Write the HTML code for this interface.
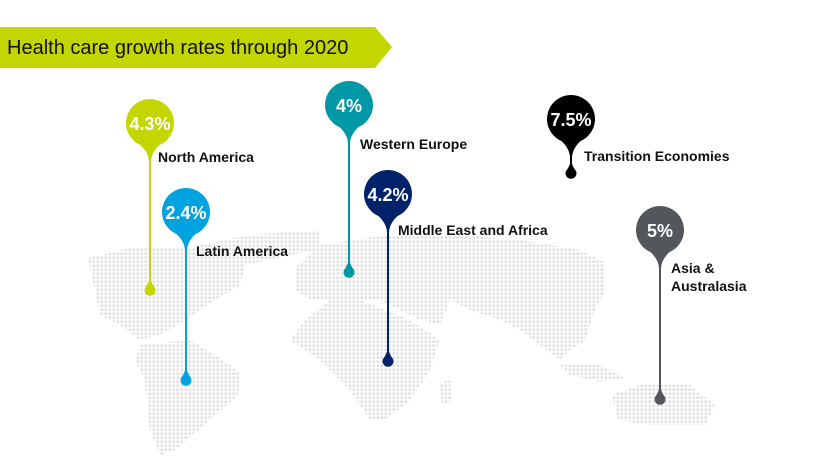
<!DOCTYPE html>
<html><head><meta charset="utf-8"><style>
html,body{margin:0;padding:0;background:#fff;}
body{width:837px;height:471px;overflow:hidden;position:relative;font-family:"Liberation Sans",sans-serif;}
</style></head><body>
<svg width="837" height="471" viewBox="0 0 837 471" xmlns="http://www.w3.org/2000/svg" style="position:absolute;left:0;top:0">
<defs>
<pattern id="d" width="4" height="4" patternUnits="userSpaceOnUse"><rect x="0.5" y="0.5" width="2.5" height="2.3" fill="#dcdcdc"/></pattern>
</defs>
<polygon points="0,27 375,27 392,47 375,68 0,68" fill="#c4d600"/>
<text x="7" y="54" font-size="20" fill="#111">Health care growth rates through 2020</text>
<g fill="url(#d)">
<polygon points="88,258 130,248 190,247 250,235 320,230 320,250 290,255 245,265 240,285 215,300 185,320 160,335 140,340 120,325 100,315 95,290"/>
<polygon points="140,345 190,340 215,355 240,372 238,395 210,420 175,450 160,455 150,430 145,380 135,360"/>
<polygon points="295,268 320,245 380,236 460,235 520,240 580,250 605,262 605,290 595,310 585,340 570,350 560,360 540,345 520,330 500,320 470,310 450,300 440,325 420,320 400,310 380,300 350,300 310,300 295,290"/>
<polygon points="290,340 305,320 330,300 360,300 410,320 440,340 430,370 410,400 385,420 370,420 350,390 320,360"/>
<polygon points="560,365 600,365 625,378 600,382 570,375"/>
<polygon points="612,395 640,385 690,385 715,405 705,425 650,425 618,420"/>
<polygon points="440,385 450,378 452,400 442,405"/>
</g>
<g>
<g fill="#c4d600" stroke="#c4d600"><circle cx="150" cy="123" r="24" stroke="none"/><path d="M134,140 Q149,150 149,162 L151,162 Q151,150 166,140Z" stroke="none"/><line x1="150" y1="155" x2="150" y2="283" stroke-width="2"/><path d="M150,276 Q151,283 155,288 A5.5,5.5 0 1 1 145,288 Q149,283 150,276Z" stroke="none"/></g>
<g fill="#00a3e0" stroke="#00a3e0"><circle cx="186" cy="212" r="24" stroke="none"/><path d="M170,229 Q185,239 185,251 L187,251 Q187,239 202,229Z" stroke="none"/><line x1="186" y1="245" x2="186" y2="373" stroke-width="2"/><path d="M186,366 Q187,373 191,378 A5.5,5.5 0 1 1 181,378 Q185,373 186,366Z" stroke="none"/></g>
<g fill="#0097a7" stroke="#0097a7"><circle cx="349" cy="105" r="24" stroke="none"/><path d="M333,122 Q348,132 348,144 L350,144 Q350,132 365,122Z" stroke="none"/><line x1="349" y1="138" x2="349" y2="264" stroke-width="2"/><path d="M349,258 Q350,265 354,270 A5.5,5.5 0 1 1 344,270 Q348,265 349,258Z" stroke="none"/></g>
<g fill="#012169" stroke="#012169"><circle cx="388" cy="194" r="24" stroke="none"/><path d="M372,211 Q387,221 387,233 L389,233 Q389,221 404,211Z" stroke="none"/><line x1="388" y1="227" x2="388" y2="354" stroke-width="2"/><path d="M388,347 Q389,354 393,359 A5.5,5.5 0 1 1 383,359 Q387,354 388,347Z" stroke="none"/></g>
<g fill="#000" stroke="#000"><circle cx="571" cy="119" r="24" stroke="none"/><path d="M555,136 Q570,146 570,158 L572,158 Q572,146 587,136Z" stroke="none"/><line x1="571" y1="152" x2="571" y2="167" stroke-width="2"/><path d="M571,160 Q572,166 576,171 A5.5,5.5 0 1 1 566,171 Q570,166 571,160Z" stroke="none"/></g>
<g fill="#53565a" stroke="#53565a"><circle cx="660" cy="230" r="24" stroke="none"/><path d="M644,247 Q659,257 659,269 L661,269 Q661,257 676,247Z" stroke="none"/><line x1="660" y1="263" x2="660" y2="392" stroke-width="2"/><path d="M660,385 Q661,392 665,397 A5.5,5.5 0 1 1 655,397 Q659,392 660,385Z" stroke="none"/></g>
</g>
<g fill="#fff" font-size="18" font-weight="bold" text-anchor="middle">
<text x="150" y="130">4.3%</text>
<text x="186" y="219">2.4%</text>
<text x="349" y="112">4%</text>
<text x="388" y="201">4.2%</text>
<text x="571" y="126">7.5%</text>
<text x="660" y="237">5%</text>
</g>
<g fill="#111" font-size="14" font-weight="bold">
<text x="158" y="162">North America</text>
<text x="196" y="256">Latin America</text>
<text x="360" y="149">Western Europe</text>
<text x="398" y="235">Middle East and Africa</text>
<text x="584" y="161">Transition Economies</text>
<text x="671" y="273">Asia &amp;</text>
<text x="671" y="291">Australasia</text>
</g>
</svg>
</body></html>
